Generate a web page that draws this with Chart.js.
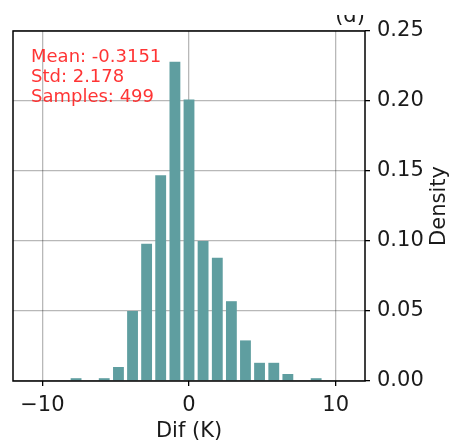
<!DOCTYPE html>
<html>
<head>
<meta charset="utf-8">
<script src="https://cdn.jsdelivr.net/npm/chart.js@4"></script>
<style>
  html, body { margin: 0; padding: 0; background: #fff; }
  canvas { display: block; }
</style>
</head>
<body>
<canvas id="histChart" width="454" height="445"></canvas>
<script>
// histogram bins (centres, K) and density values
const binCenters = [-7.70, -5.78, -4.81, -3.85, -2.89, -1.93, -0.96, 0.00, 0.96, 1.93, 2.89, 3.85, 4.81, 5.78, 6.74, 8.67];
const density = [0.002, 0.002, 0.010, 0.050, 0.098, 0.147, 0.228, 0.201, 0.100, 0.088, 0.057, 0.029, 0.013, 0.013, 0.005, 0.002];
const xTicks = [-10, 0, 10];
const yTicks = [0, 0.05, 0.10, 0.15, 0.20, 0.25];
const statsLines = ["Mean: -0.3151", "Std: 2.178", "Samples: 499"];
const panelLabel = "(d)";

const FONT = "'DejaVu Sans', sans-serif";
const AXIS_SIZE = 21;

// frame, stats text, panel label and the rotated y title
const extras = {
    id: "extras",
    afterDraw(chart) {
        const ctx = chart.ctx;
        const a = chart.chartArea;
        ctx.save();
        ctx.strokeStyle = "#000";
        ctx.lineWidth = 1.5;
        ctx.strokeRect(a.left, a.top, a.right - a.left, a.bottom - a.top);

        ctx.fillStyle = "rgba(255, 30, 30, 0.9)";
        ctx.font = "18px " + FONT;
        ctx.textAlign = "left";
        ctx.textBaseline = "alphabetic";
        statsLines.forEach((t, i) => ctx.fillText(t, a.left + 18, a.top + 31 + i * 20));

        // panel label, cut at the top like in the source image
        ctx.save();
        ctx.beginPath();
        ctx.rect(0, 15, chart.width, 20);
        ctx.clip();
        ctx.fillStyle = "#1a1a1a";
        ctx.font = AXIS_SIZE + "px " + FONT;
        ctx.textAlign = "center";
        ctx.fillText(panelLabel, 350, 22);
        ctx.restore();

        ctx.translate(440, (a.top + a.bottom) / 2);
        ctx.rotate(-Math.PI / 2);
        ctx.fillStyle = "#1a1a1a";
        ctx.font = AXIS_SIZE + "px " + FONT;
        ctx.textAlign = "center";
        ctx.textBaseline = "middle";
        ctx.fillText("Density", 0, 0);
        ctx.restore();
    }
};

const ctx = document.getElementById("histChart").getContext("2d");

new Chart(ctx, {
    type: "bar",
    data: {
        datasets: [{
            label: "Density",
            data: binCenters.map((x, i) => ({ x: x, y: density[i] })),
            backgroundColor: "#5f9ea0",
            borderWidth: 0,
            barPercentage: 0.77,
            categoryPercentage: 1.0
        }]
    },
    options: {
        responsive: false,
        animation: false,
        layout: { padding: { left: 13, top: 31, right: 0, bottom: 0 } },
        plugins: {
            legend: { display: false },
            tooltip: { enabled: false }
        },
        scales: {
            x: {
                type: "linear",
                min: -12,
                max: 12,
                offset: false,
                z: 1,
                afterBuildTicks: scale => { scale.ticks = xTicks.map(v => ({ value: v })); },
                afterFit: scale => { scale.height = 64; },
                grid: {
                    offset: false,
                    color: "rgba(0,0,0,0.28)",
                    lineWidth: 1.3,
                    tickColor: "#000",
                    tickLength: 5,
                    tickWidth: 1.3
                },
                border: { display: false },
                ticks: {
                    color: "#1a1a1a",
                    padding: 7,
                    maxRotation: 0,
                    font: { family: FONT, size: AXIS_SIZE },
                    callback: v => (v < 0 ? "\u2212" + Math.abs(v) : String(v))
                },
                title: {
                    display: true,
                    text: "Dif (K)",
                    color: "#1a1a1a",
                    font: { family: FONT, size: AXIS_SIZE },
                    padding: { top: 0, bottom: 1 }
                }
            },
            y: {
                position: "right",
                min: 0,
                max: 0.25,
                z: 1,
                afterBuildTicks: scale => { scale.ticks = yTicks.map(v => ({ value: v })); },
                afterFit: scale => { scale.width = 89; },
                grid: {
                    color: "rgba(0,0,0,0.28)",
                    lineWidth: 1.3,
                    tickColor: "#000",
                    tickLength: 5,
                    tickWidth: 1.3
                },
                border: { display: false },
                ticks: {
                    color: "#1a1a1a",
                    padding: 7,
                    font: { family: FONT, size: AXIS_SIZE },
                    callback: v => Number(v).toFixed(2)
                }
            }
        }
    },
    plugins: [extras]
});
</script>
</body>
</html>
